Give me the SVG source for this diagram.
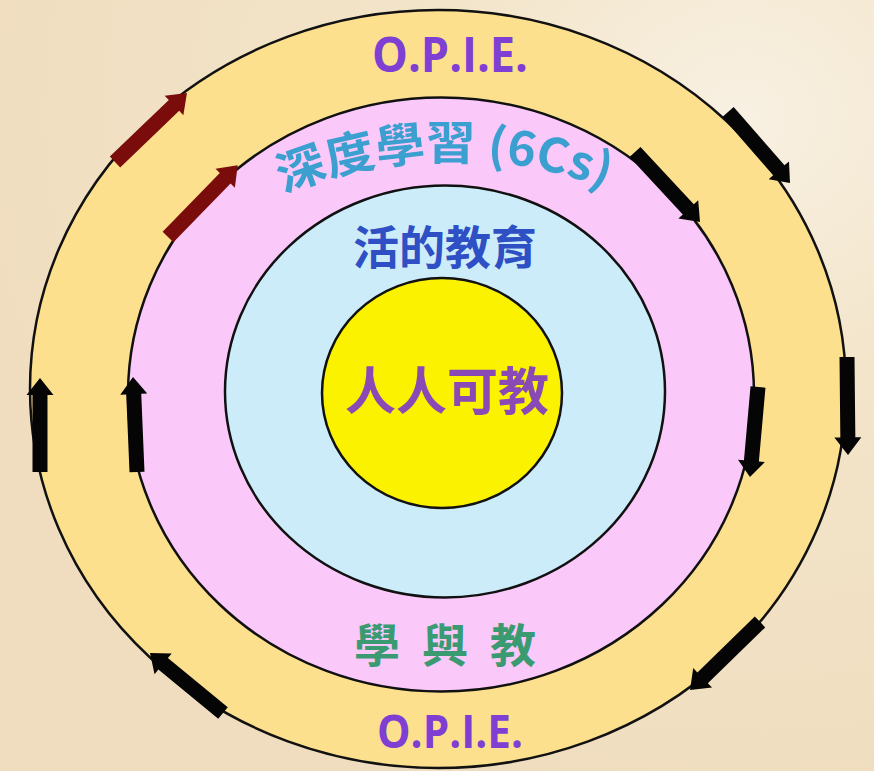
<svg xmlns="http://www.w3.org/2000/svg" width="874" height="771" viewBox="0 0 874 771">
  <defs>
    <radialGradient id="bg" cx="0.85" cy="0.15" r="0.9">
      <stop offset="0" stop-color="#f8f0e2"/>
      <stop offset="0.4" stop-color="#f3e5ca"/>
      <stop offset="1" stop-color="#f0ddbf"/>
    </radialGradient>
    <path id="arr" d="M0,-7.5 H82 V-13.5 L100,0 L82,13.5 V7.5 H0 Z"/>
    <path id="arcText" d="M 260 204 A 430 430 0 0 1 640 204"/>
    <style>
      .ring { stroke: #111; stroke-width: 2.5; }
      .lbl { font-family: "Noto Sans CJK TC", "Noto Sans CJK SC", "Open Sans", sans-serif; font-weight: 600; text-anchor: middle; }
      .opie { font-family: "Open Sans", "Liberation Sans", sans-serif; font-weight: bold; fill: #7e3fd2; text-anchor: middle; }
      .blk { fill: #050505; }
      .red { fill: #7a0c0c; }
    </style>
  </defs>
  <rect width="874" height="771" fill="url(#bg)"/>

  <g id="ring-opie">
    <ellipse cx="438" cy="389" rx="408" ry="379" fill="#fde08e" class="ring"/>
    <text class="opie" x="450" y="72" font-size="48" textLength="156" lengthAdjust="spacingAndGlyphs">O.P.I.E.</text>
    <text class="opie" x="450" y="748" font-size="46" textLength="146" lengthAdjust="spacingAndGlyphs">O.P.I.E.</text>
  </g>

  <g id="ring-deep">
    <ellipse cx="441" cy="394.5" rx="313" ry="297" fill="#fbc8fa" class="ring"/>
    <text class="lbl" font-size="47" fill="#3b9fd0"><textPath href="#arcText" startOffset="48.5%" textLength="330" lengthAdjust="spacingAndGlyphs">深度學習 (6Cs)</textPath></text>
    <text class="lbl" x="456" y="662" font-size="46" fill="#3a9a72" letter-spacing="22">學與教</text>
  </g>

  <g id="ring-live">
    <ellipse cx="445" cy="391.5" rx="220" ry="206" fill="#ccecfa" class="ring"/>
    <text class="lbl" x="445" y="264" font-size="46" fill="#2f4fc4">活的教育</text>
  </g>

  <g id="core">
    <ellipse cx="442" cy="393" rx="120" ry="115" fill="#fbf200" class="ring"/>
    <text class="lbl" x="447" y="410" font-size="51" fill="#8a4ab6">人人可教</text>
  </g>

  <g id="connectors">
    <use href="#arr" class="red" transform="translate(115,162) rotate(-43.8) scale(0.997,1)"/>
    <use href="#arr" class="red" transform="translate(168,237) rotate(-45.8) scale(1.0,1)"/>
    <use href="#arr" class="blk" transform="translate(728,112) rotate(48.9) scale(0.943,1)"/>
    <use href="#arr" class="blk" transform="translate(635,152) rotate(47.1) scale(0.955,1)"/>
    <use href="#arr" class="blk" transform="translate(847,357) rotate(89.4) scale(0.98,1)"/>
    <use href="#arr" class="blk" transform="translate(758,387) rotate(95.1) scale(0.904,1)"/>
    <use href="#arr" class="blk" transform="translate(760,622) rotate(135.8) scale(0.976,1)"/>
    <use href="#arr" class="blk" transform="translate(223,713) rotate(-140.6) scale(0.945,1)"/>
    <use href="#arr" class="blk" transform="translate(40,472) rotate(-90) scale(0.94,1)"/>
    <use href="#arr" class="blk" transform="translate(137,472) rotate(-92.4) scale(0.95,1)"/>
  </g>
</svg>
